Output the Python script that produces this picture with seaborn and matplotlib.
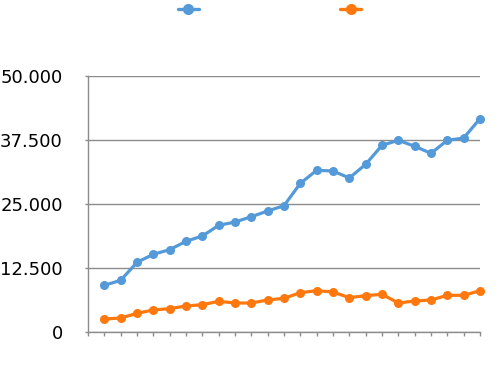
import numpy as np
import pandas as pd
import matplotlib
matplotlib.use("Agg")
import matplotlib.pyplot as plt
import seaborn as sns
from matplotlib.ticker import FuncFormatter

categories = list(range(1, 25))
series_a = [9121, 10090, 13610, 15180, 16080, 17710, 18750, 20830, 21480, 22520,
            23630, 24670, 29040, 31580, 31450, 30080, 32750, 36460, 37440, 36270,
            34900, 37440, 37890, 41670]
series_b = [2540, 2730, 3650, 4300, 4560, 5080, 5340, 5990, 5660, 5660,
            6250, 6580, 7680, 8070, 7810, 6710, 7100, 7360, 5660, 6050,
            6250, 7160, 7160, 8070]
series_names = ["A", "B"]
yticks = [0, 12500, 25000, 37500, 50000]

df = pd.DataFrame({
    "x": categories * 2,
    "y": series_a + series_b,
    "s": [series_names[0]] * len(series_a) + [series_names[1]] * len(series_b),
})

sns.set_theme(style="white")
plt.rcParams["font.family"] = ["DejaVu Sans"]

W, H = 499, 369
fig = plt.figure(figsize=(W / 100, H / 100), dpi=100)
ax = fig.add_axes([88 / W, 1 - 332 / H, (480 - 88) / W, (332 - 76) / H])

colors = ["#5499D8", "#FF780E"]
sns.lineplot(data=df, x="x", y="y", hue="s", palette=colors, marker="o",
             markersize=6.5, markeredgewidth=0, linewidth=2.3, ax=ax,
             legend=False, clip_on=False, zorder=3)

ax.set_xlim(0, 24)
ax.set_ylim(0, 50000)
ax.set_xticks(range(0, 25))
ax.set_xticklabels([])
ax.set_yticks(yticks)
ax.yaxis.set_major_formatter(FuncFormatter(lambda v, p: f"{int(v):,}".replace(",", ".")))
ax.set_xlabel("")
ax.set_ylabel("")
ax.grid(axis="y", color="#8c8c8c", linewidth=1)
ax.grid(axis="x", visible=False)
ax.set_axisbelow(True)
for s in ["top", "right"]:
    ax.spines[s].set_visible(False)
for s in ["left", "bottom"]:
    ax.spines[s].set_color("#8c8c8c")
    ax.spines[s].set_linewidth(1)
ax.tick_params(axis="x", direction="out", length=3, width=1, color="#8c8c8c", bottom=True)
ax.tick_params(axis="y", direction="out", length=2.2, width=1, color="#8c8c8c",
               left=True, labelsize=13, pad=16, labelcolor="black")

handles = [plt.Line2D([], [], color=c, marker="o", markersize=8, markeredgewidth=0,
                      linewidth=2.4) for c in colors]
fig.legend(handles, ["", ""], loc="center", bbox_to_anchor=(269.5 / W, 1 - 11 / H),
           ncol=2, frameon=False, fontsize=14.5, handlelength=1.05,
           handletextpad=0, columnspacing=7.0, borderpad=0)

fig.savefig("out.png", dpi=100)
